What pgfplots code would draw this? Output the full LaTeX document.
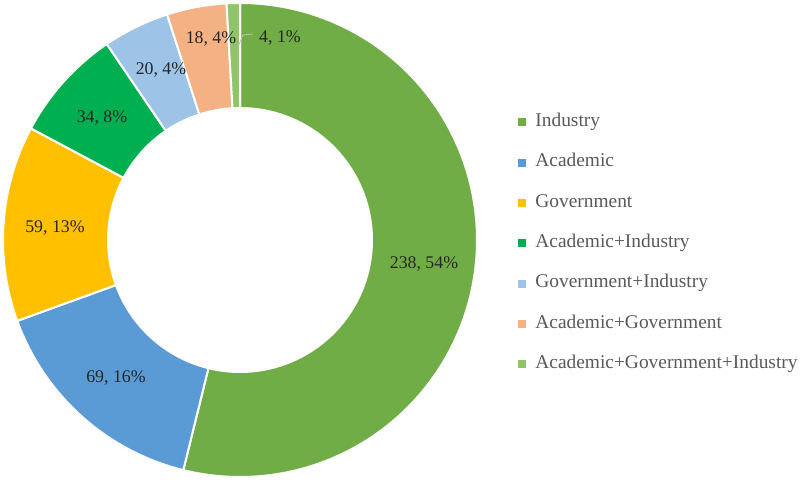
\documentclass[border=0pt]{standalone}
\usepackage{pgfplots}
\pgfplotsset{compat=1.18}
\usepackage{fontspec}
\setmainfont{Liberation Serif}
\definecolor{cInd}{HTML}{70AD47}
\definecolor{cAca}{HTML}{5B9BD5}
\definecolor{cGov}{HTML}{FFC000}
\definecolor{cAI}{HTML}{00B050}
\definecolor{cGI}{HTML}{9DC3E6}
\definecolor{cAG}{HTML}{F4B183}
\definecolor{cAGI}{HTML}{8FC46A}
\definecolor{legtext}{HTML}{595959}
\definecolor{labtext}{HTML}{262626}
% slice: #1 = cumulative count before, #2 = count, #3 = colour; total = 442
\newcommand\slice[3]{%
  \pgfmathsetmacro\aS{90-(#1/442)*360}%
  \pgfmathsetmacro\aE{90-((#1+#2)/442)*360}%
  \edef\doslice{\noexpand\addplot[fill=#3,draw=white,line width=2pt,domain=\aE:\aS,samples=150,forget plot] ({240+237*cos(x)},{-240+237*sin(x)}) -- (axis cs:240,-240) -- cycle;}%
  \doslice
}
\begin{document}
\begin{tikzpicture}
\begin{axis}[
  scale only axis, hide axis, clip=false,
  x=1pt, y=1pt,
  xmin=0, xmax=800, ymin=-480, ymax=0,
  legend image code/.code={\fill[#1] (0pt,-3.5pt) rectangle (7pt,3.5pt);},
  legend cell align=left,
  legend style={at={(axis cs:518,-113.5)}, anchor=north west, draw=none, fill=none,
    inner sep=0pt, outer sep=0pt, row sep=23.3pt, column sep=10pt,
    font=\fontsize{19.4}{22}\selectfont, text=legtext,
    nodes={inner sep=0pt, text height=13pt, text depth=4pt}},
]
\draw[draw=none] (axis cs:0,0) rectangle (axis cs:800,-480);
\slice{0}{238}{cInd}
\slice{238}{69}{cAca}
\slice{307}{59}{cGov}
\slice{366}{34}{cAI}
\slice{400}{20}{cGI}
\slice{420}{18}{cAG}
\slice{438}{4}{cAGI}
\addplot[fill=white,draw=none,domain=0:360,samples=240,forget plot] ({240+133*cos(x)},{-240+133*sin(x)}) -- cycle;
\addplot[gray!50, line width=0.8pt, forget plot] coordinates {(238,-47) (243,-35) (253,-34)};
\addlegendimage{cInd}\addlegendentry{Industry}
\addlegendimage{cAca}\addlegendentry{Academic}
\addlegendimage{cGov}\addlegendentry{Government}
\addlegendimage{cAI}\addlegendentry{Academic+Industry}
\addlegendimage{cGI}\addlegendentry{Government+Industry}
\addlegendimage{cAG}\addlegendentry{Academic+Government}
\addlegendimage{cAGI}\addlegendentry{Academic+Government+Industry}
\begin{scope}[every node/.style={font=\fontsize{17.8}{20}\selectfont, text=labtext, inner sep=0pt}]
\node at (axis cs:424,-264) {238, 54\%};
\node at (axis cs:116,-378) {69, 16\%};
\node at (axis cs:55,-228) {59, 13\%};
\node at (axis cs:102,-118) {34, 8\%};
\node at (axis cs:161,-70) {20, 4\%};
\node at (axis cs:211,-39) {18, 4\%};
\node at (axis cs:280,-38) {4, 1\%};
\end{scope}
\end{axis}
\end{tikzpicture}
\end{document}
